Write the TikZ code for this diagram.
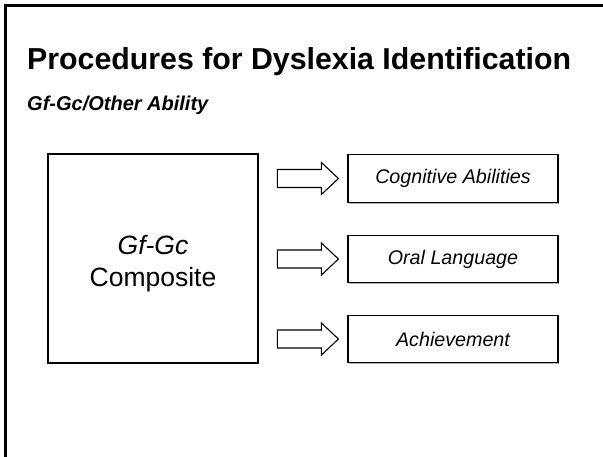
\documentclass[tikz,border=0pt]{standalone}
\usepackage{fontspec}
\setmainfont{Liberation Sans}
\usetikzlibrary{shadows}

\tikzset{
  framerule/.style={line width=2.6pt, draw=black, line cap=rect},
  panel/.style={draw=black, line width=1.2pt, fill=white, inner sep=0pt,
    drop shadow={shadow xshift=1.3pt, shadow yshift=-1.3pt, opacity=0.3, fill=black}},
  bigpanel/.style={panel, minimum width=210pt, minimum height=209pt},
  bigtext/.style={align=center, inner sep=0pt, font=\fontsize{26.5}{32}\selectfont},
  smallpanel/.style={panel, minimum width=210pt, minimum height=47.5pt,
    font=\fontsize{19.7}{24}\selectfont\itshape},
  blockarrow/.style={draw=black, line width=1.1pt, fill=white, line join=miter},
  pics/fatarrow/.style={code={
    \draw[blockarrow] (0,0) -- (-17,16) -- (-17,9) -- (-61,9) -- (-61,-9)
      -- (-17,-9) -- (-17,-16) -- cycle;
  }}
}

\begin{document}
\begin{tikzpicture}[x=1pt, y=-1pt]
  \useasboundingbox (0,0) rectangle (603,457);
  \fill[white] (0,0) rectangle (603,457);

  % slide frame: top and left rules
  \draw[framerule] (5.5,457) -- (5.5,5.3) -- (603,5.3);

  % headings
  \node[anchor=base west, inner sep=0pt, font=\fontsize{30.3}{36}\selectfont\bfseries]
    (title) at (27,70) {Procedures for Dyslexia Identification};
  \node[anchor=base west, inner sep=0pt, font=\fontsize{20}{24}\selectfont\bfseries\itshape]
    (subtitle) at (27,111) {Gf-Gc/Other Ability};

  % composite box, its label sitting a little below the centre
  \node[bigpanel] (comp) at (153,258.5) {};
  \node[bigtext] (complabel) at ([yshift=-5pt]comp.center) {\textit{Gf-Gc}\\Composite};

  % target boxes
  \node[smallpanel] (cog)  at (453,178.5) {Cognitive Abilities};
  \node[smallpanel] (oral) at (453,259)   {Oral Language};
  \node[smallpanel] (ach)  at (453,339)   {Achievement};

  % block arrows pointing at the target boxes
  \pic at ([xshift=-9pt]cog.west)  {fatarrow};
  \pic at ([xshift=-9pt]oral.west) {fatarrow};
  \pic at ([xshift=-9pt]ach.west)  {fatarrow};
\end{tikzpicture}
\end{document}
